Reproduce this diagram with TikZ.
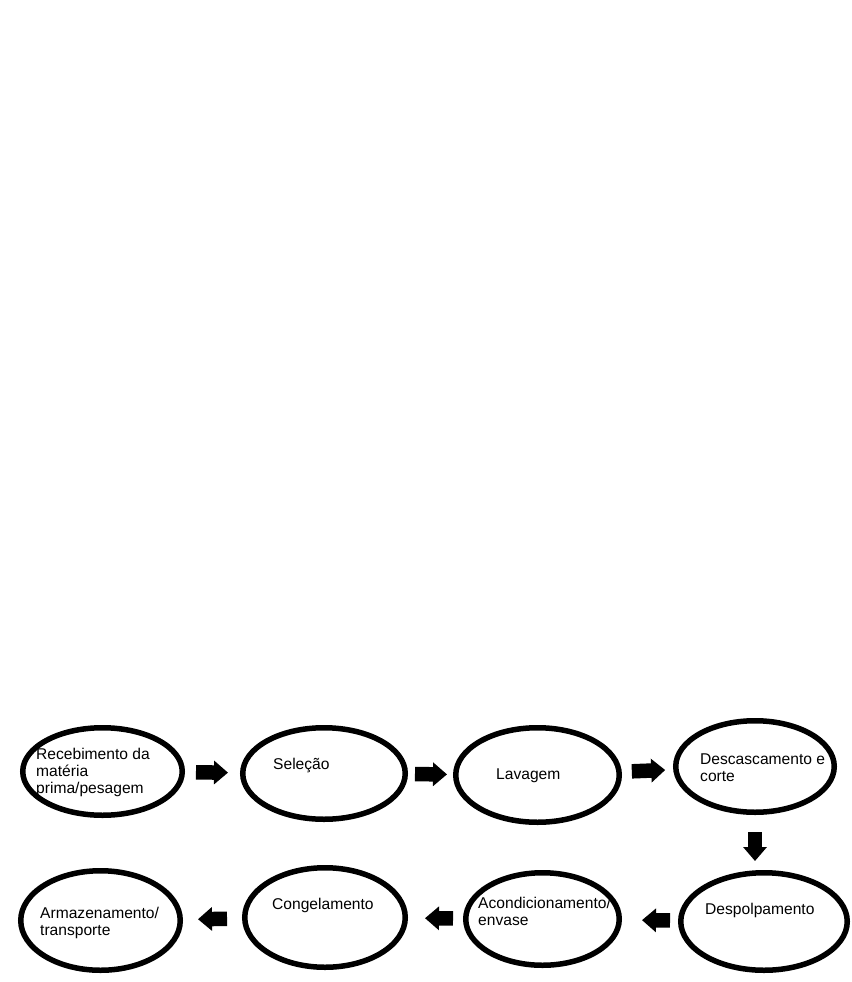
\documentclass[tikz,border=0pt]{standalone}
\usepackage{fontspec}
\setmainfont{Liberation Sans}
\usetikzlibrary{arrows.meta,shapes.geometric}
\tikzset{
	etapa/.style={draw, ellipse, line width=5.5pt, inner sep=0pt},
	rotulo/.style={anchor=base west, inner sep=0pt, align=left, font=\fontsize{15.6}{17}\selectfont},
	seta/.style={line width=14.5pt, -{Triangle[width=23pt,length=14pt]}}
}

\begin{document}
\begin{tikzpicture}[x=1pt, y=-1pt]
			%%%%% START %%%%%
			
			\useasboundingbox (0, 0) rectangle (851, 982);
			
			\node[etapa, minimum width=159.5pt, minimum height=87.5pt] (e1) at (102.5, 771.5) {};
			\node[etapa, minimum width=162.5pt, minimum height=91.5pt] (e2) at (324, 773.5) {};
			\node[etapa, minimum width=163.5pt, minimum height=94.5pt] (e3) at (537.5, 775) {};
			\node[etapa, minimum width=158.5pt, minimum height=91.5pt] (e4) at (755, 766.5) {};
			
			\node[etapa, minimum width=166.5pt, minimum height=97.5pt] (e5) at (764, 921.5) {};
			\node[etapa, minimum width=153.5pt, minimum height=92.5pt] (e6) at (542.5, 919) {};
			\node[etapa, minimum width=160.5pt, minimum height=99.5pt] (e7) at (325, 917.5) {};
			\node[etapa, minimum width=159.5pt, minimum height=99.5pt] (e8) at (100.5, 920.5) {};
			
			% base = last line
			\node[rotulo] (t1) at (36, 793) {Recebimento da\\matéria\\prima/pesagem};
			\node[rotulo] (t2) at (273, 769) {Seleção};
			\node[rotulo] (t3) at (496, 779) {Lavagem};
			\node[rotulo] (t4) at (700, 781) {Descascamento e\\corte};
			\node[rotulo] (t5) at (705, 914) {Despolpamento};
			\node[rotulo] (t6) at (478, 925) {Acondicionamento/\\envase};
			\node[rotulo] (t7) at (272, 909) {Congelamento};
			\node[rotulo] (t8) at (40, 935) {Armazenamento/\\transporte};
			
			\draw[seta, shorten <=11pt, shorten >=12pt] (e1) -- (e2);
			\draw[seta, shorten <=7pt, shorten >=6pt] (e2) -- (e3);
			\draw[seta, shorten <=10pt, shorten >=8pt] (e3) -- (e4);
			\draw[seta, shorten <=17pt, shorten >=9pt] (e4.south) -- (e4.south |- e5.north);
			\draw[seta, shorten <=8pt, shorten >=20pt] (e5) -- (e6);
			\draw[seta, shorten <=10pt, shorten >=17pt] (e6) -- (e7);
			\draw[seta, shorten <=15pt, shorten >=15pt] (e7) -- (e8);
			
			%%%%% END %%%%%
\end{tikzpicture}
\end{document}
